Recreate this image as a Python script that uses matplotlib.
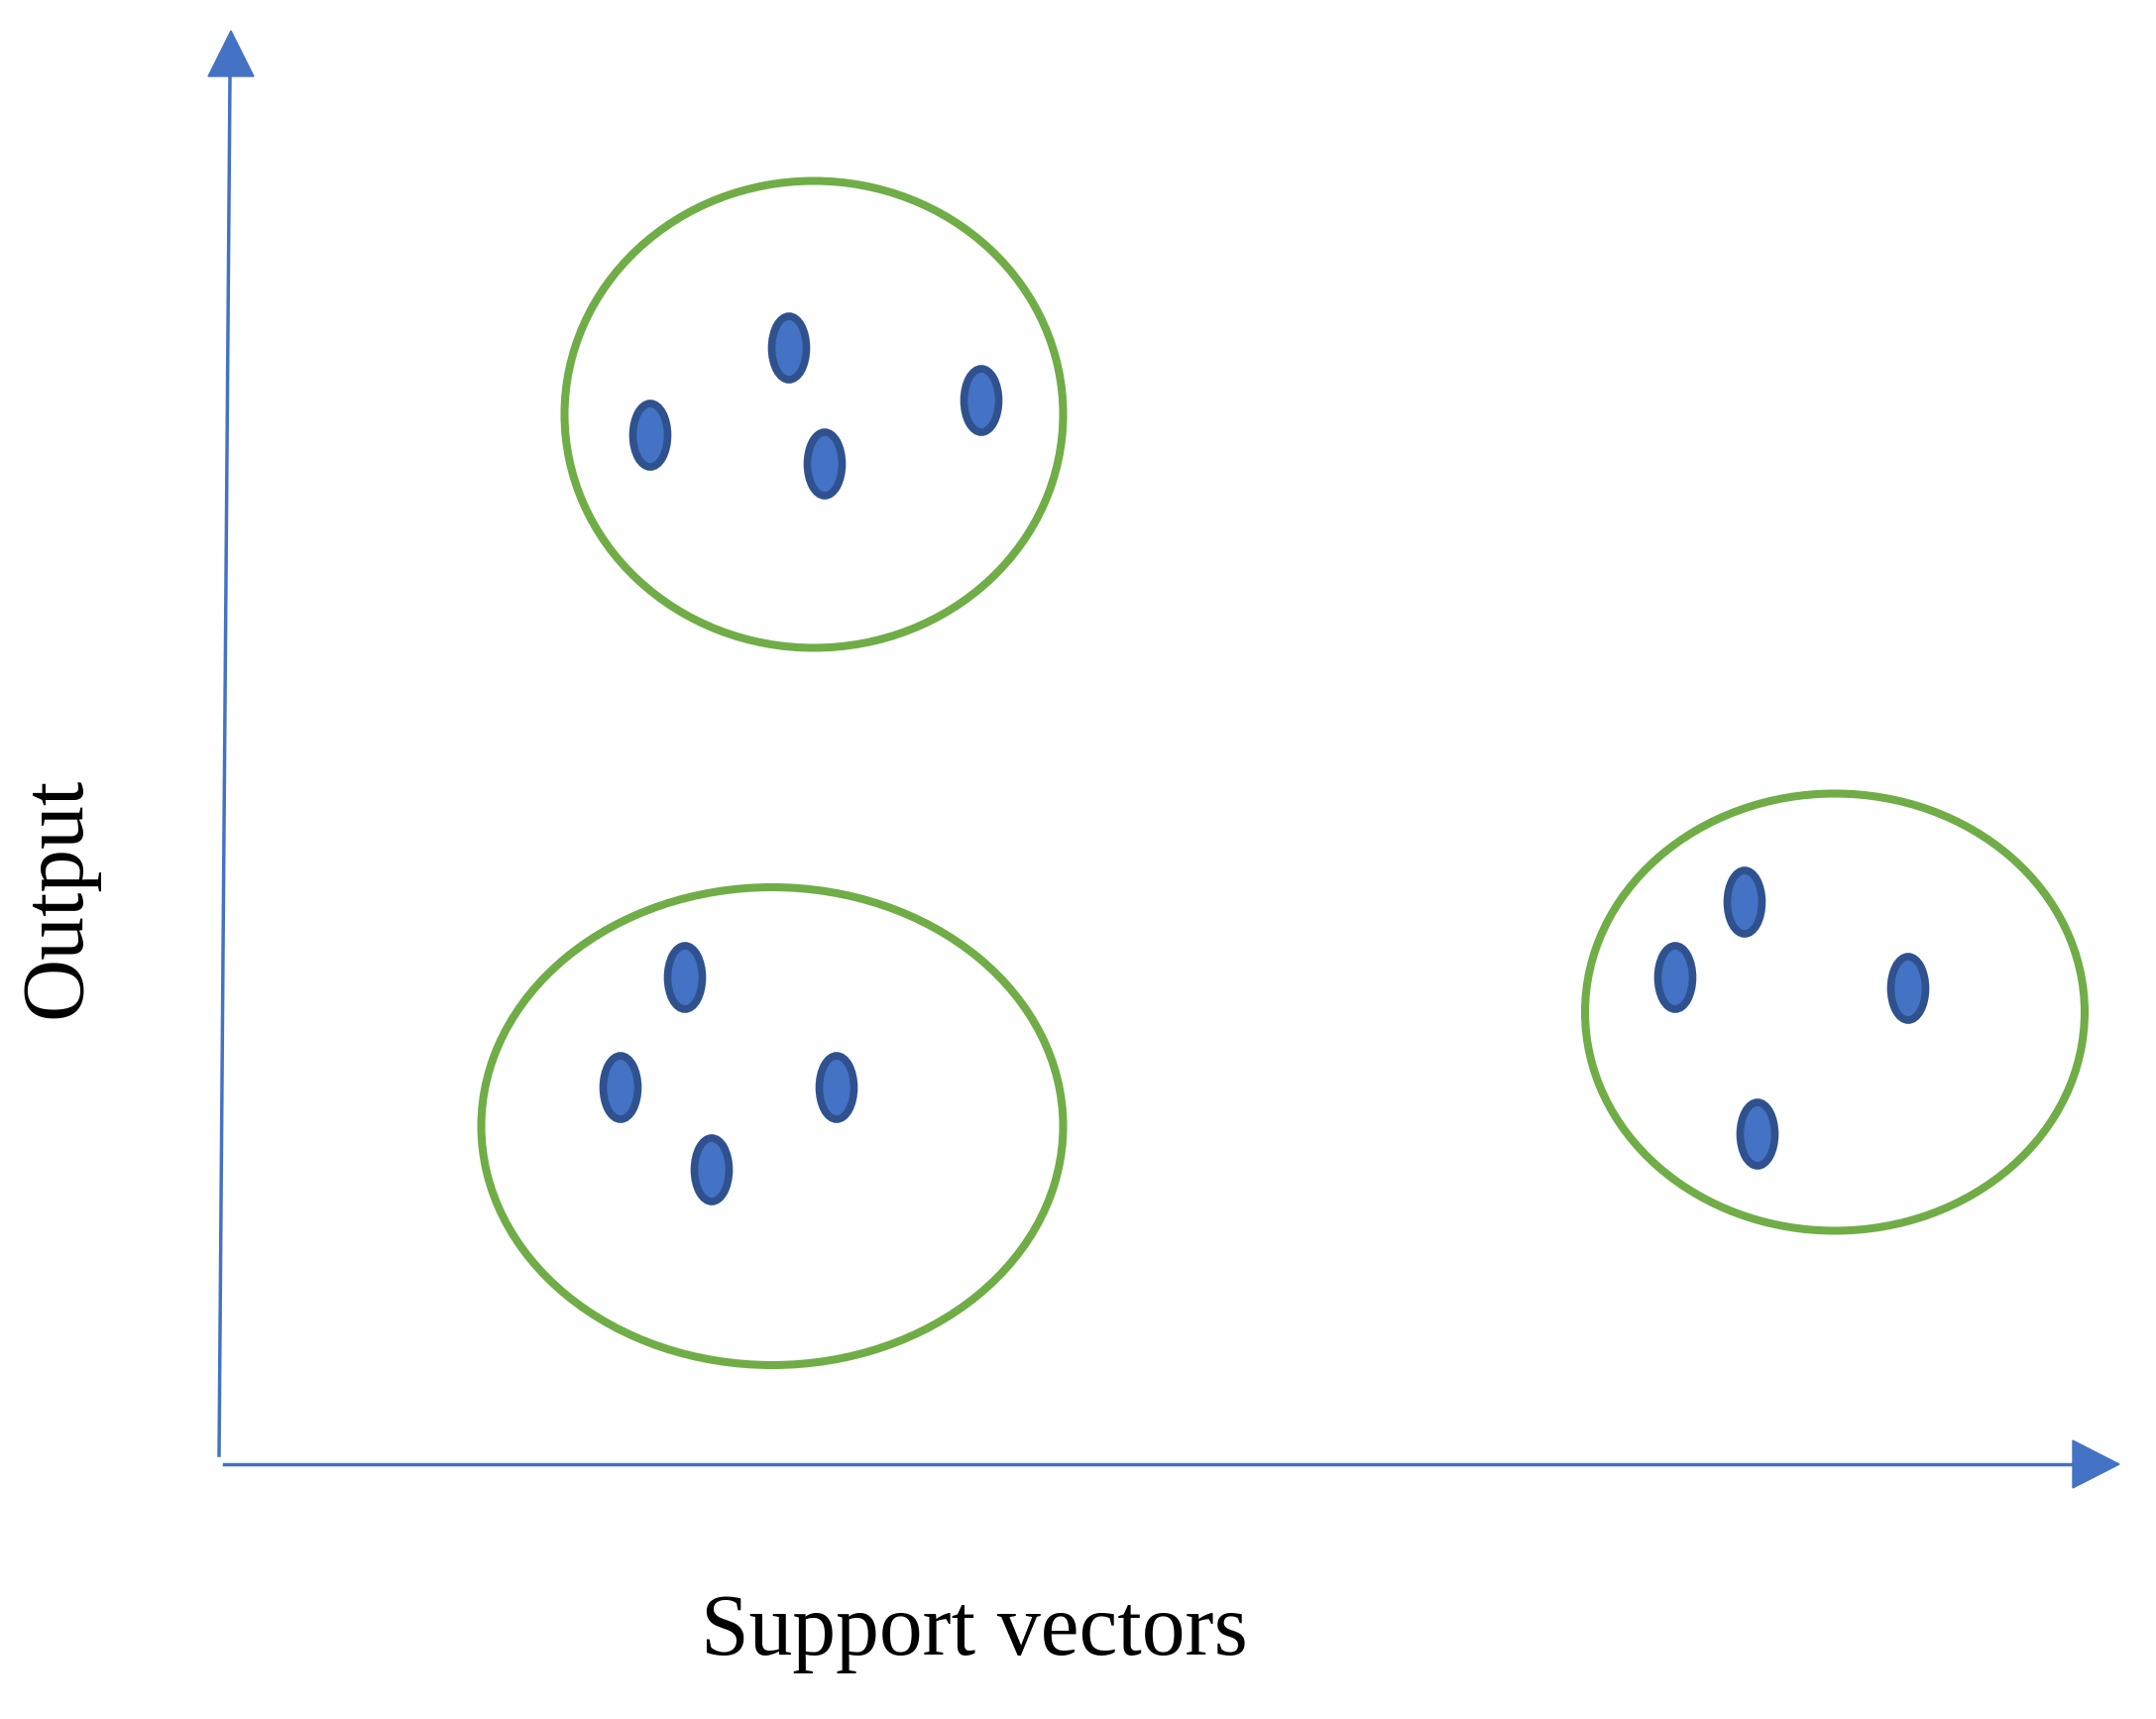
import matplotlib
matplotlib.use("Agg")
import matplotlib.pyplot as plt
from matplotlib.patches import Ellipse, Polygon

# ---- data (pixel-space coordinates of the schematic) ----
cluster_cx = [821, 779, 1851]
cluster_cy = [418, 1136, 1021]
cluster_w = [503, 587, 504]
cluster_h = [471, 482, 441]

point_x = [796, 656, 832, 990, 691, 626, 718, 844, 1760, 1690, 1773, 1925]
point_y = [351, 439, 468, 404, 986, 1097, 1180, 1097, 910, 986, 1144, 997]

x_label = "Support vectors"
y_label = "Output"

W, H = 2175, 1734
fig = plt.figure(figsize=(W / 100, H / 100), dpi=100)
ax = fig.add_axes([0, 0, 1, 1])
ax.set_xlim(0, W)
ax.set_ylim(H, 0)
ax.axis("off")

blue = "#4472C4"
dark = "#2F528F"
green = "#70AD47"

# axes arrows
ax.plot([221, 232], [1468, 77], color=blue, lw=2.5)
ax.add_patch(Polygon([[210, 77], [256, 77], [233, 31]], closed=True, color=blue))
ax.plot([226, 2091], [1477, 1477], color=blue, lw=2.5)
ax.add_patch(Polygon([[2091, 1453], [2091, 1501], [2138, 1477]], closed=True, color=blue))

for cx, cy, w, h in zip(cluster_cx, cluster_cy, cluster_w, cluster_h):
    ax.add_patch(Ellipse((cx, cy), w, h, fill=False, ec=green, lw=5.8))

for x, y in zip(point_x, point_y):
    ax.add_patch(Ellipse((x, y), 35, 64, fc=blue, ec=dark, lw=5.5))

font = ["Liberation Serif", "DejaVu Serif"]
ax.text(983, 1648, x_label, ha="center", va="center", fontsize=63, family=font)
ax.text(59, 905, y_label, ha="center", va="center", fontsize=63, rotation=90, family=font)

fig.savefig("out.png", dpi=100, facecolor="white")
